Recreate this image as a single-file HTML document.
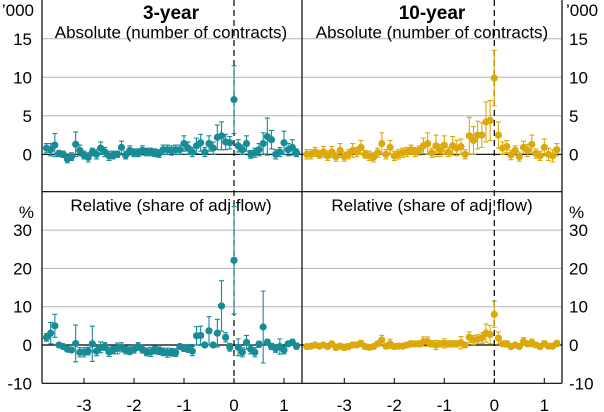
<!DOCTYPE html>
<html><head><meta charset="utf-8"><style>
body{margin:0;background:#fff}
svg{display:block;font-family:"Liberation Sans",Arial,sans-serif}
</style></head><body>
<svg id="c" width="604" height="412" viewBox="0 0 604 412" xmlns="http://www.w3.org/2000/svg"></svg>
<script>
// x positions: months relative to event, in years
const monthIndex = [];
for (let i = -45; i <= 15; i++) monthIndex.push(i);
const absolute3y = [0.8,0.6,1.2,0.1,0,-0.6,-0.3,1.3,0.5,-0.1,-0.4,0.3,0,0.8,0.3,-0.2,-0.1,0,0.9,-0.1,0.5,0.2,0.2,0.5,0.3,0.3,0.2,0.1,0.6,0.6,0.5,0.6,0.6,1.4,0.8,0.3,1.1,1.5,0.3,1.4,0.8,2.2,2.4,1.6,1.5,7.1,1.1,0.6,1.4,0,0.2,0.6,1.4,2.3,1.9,0,0.3,1.5,0.6,0.9,0.2];
const absolute3yErr = [0.6,0.8,1.5,0.4,0.4,0.5,0.5,1.6,0.7,0.5,0.6,0.5,0.6,0.8,0.6,0.6,0.5,0.4,0.8,0.5,0.6,0.5,0.5,0.6,0.5,0.5,0.5,0.5,0.6,0.6,0.6,0.6,0.6,1.0,0.8,0.6,1.0,1.1,0.6,1.0,0.8,1.6,1.8,1.0,0.8,4.4,0.8,0.6,1.0,0.5,0.6,0.8,1.4,2.4,1.2,0.6,0.6,1.5,0.8,1.0,0.5];
const relative3y = [2.0,3.1,5.0,0,-0.4,-1.1,-1.3,0.4,-1.9,-1.9,-1.6,0.3,-1.6,-0.6,-0.4,-1.8,-1.3,-0.9,-0.6,-1.3,-1.5,-1.1,-0.4,-1.1,-1.8,-1.8,-1.3,-1.5,-1.8,-2.0,-1.9,-2.0,-0.4,-0.9,-0.9,-1.6,2.4,2.5,0,3.7,0,3.1,10.2,2.0,-0.6,22.1,-0.6,-1.9,0.7,-1.1,-1.9,0.2,4.7,0.7,-0.4,-0.9,-0.4,-1.3,0.3,0.7,-0.3];
const relative3yErr = [1.0,2.8,3.0,0.4,0.5,0.6,0.6,4.8,1.2,1.2,1.0,4.6,1.2,1.4,1.0,1.2,1.0,1.4,1.2,1.0,1.0,1.0,1.0,1.0,1.0,1.2,1.0,1.0,1.0,1.2,1.0,1.0,0.6,0.8,1.0,1.2,2.4,2.4,0.6,3.7,0.6,3.6,6.6,1.2,1.0,14,2.2,1.2,1.8,1.2,1.2,0.8,9.4,0.8,0.8,1.0,2.0,1.0,0.6,0.8,0.8];
const absolute10y = [0,0,0.3,0,0.3,-0.2,0.3,-0.3,0.5,-0.3,0,0.5,0.3,0.9,0,-0.2,-0.4,0.2,1.4,0,0.9,-0.2,0,0.2,0.3,0.6,0.3,0.5,1.1,1.4,0.2,1.1,0.5,1.2,0.3,1.1,0.8,1.0,0,2.4,1.8,2.5,2.5,4.2,4.4,9.9,2.5,0.8,1.0,-0.1,0.5,-0.3,0.9,0.5,1.3,0.1,-0.2,0.9,0,-0.2,0.6];
const absolute10yErr = [0.6,0.6,0.6,0.5,0.7,0.6,0.7,0.6,0.9,0.6,0.6,0.9,0.6,0.9,0.5,0.6,0.6,0.6,1.4,0.6,0.9,0.6,0.6,0.6,0.6,0.6,0.6,0.6,1.0,1.4,0.6,1.4,0.8,1.2,0.6,1.2,1.0,1.0,0.6,2.4,1.8,1.8,1.6,2.6,2.6,3.6,1.7,0.8,0.8,0.6,0.6,0.6,0.8,0.8,1.2,0.6,0.6,1.1,0.8,0.8,0.8];
const relative10y = [-0.4,-0.3,0,-0.3,0,-0.4,0.3,-0.6,-0.3,-0.6,-0.4,0,0,0.4,-0.4,-0.6,-0.4,0.3,1.3,-0.3,0.3,-0.4,-0.3,-0.3,0,0.3,0.3,0.3,0.9,0.9,0.3,0,0.3,0.4,0.3,0.3,0.3,0.6,0,2.0,1.3,1.5,1.8,3.1,2.7,8.0,1.8,0.3,0.3,-0.4,0,-0.4,0.9,0.3,0.6,0,-0.4,0.3,-0.3,-0.3,0.4];
const relative10yErr = [0.4,0.4,0.4,0.4,0.4,0.4,0.6,0.8,0.5,0.8,0.6,0.6,0.6,0.8,0.6,0.6,0.5,0.6,1.2,0.6,1.2,0.6,0.6,0.6,0.6,0.8,0.6,0.8,1.2,1.2,0.8,1.2,0.8,1.2,0.8,0.8,0.8,1.6,0.6,1.4,1.2,1.2,1.4,2.4,2.4,3.4,1.6,0.6,0.8,0.6,0.6,0.6,1.0,0.6,1.0,0.5,0.6,0.8,0.6,0.6,0.8];
const xTickLabels = [-3,-2,-1,0,1];
const topTicks = [15,10,5,0];
const botTicks = [30,20,10,0,-10];

const NS='http://www.w3.org/2000/svg';
const svg=document.getElementById('c');
function el(tag,attrs,parent){const e=document.createElementNS(NS,tag);for(const k in attrs)e.setAttribute(k,attrs[k]);(parent||svg).appendChild(e);return e;}

const panelsX=[{x0:42,x1:302,zero:234},{x0:302,x1:562,zero:494.3}];
const PX=50;
const rows=[{y0:0,y1:191.7,zeroY:154.3,per:7.7,grid:[5,10,15]},{y0:191.7,y1:383.3,zeroY:345,per:3.83,grid:[10,20,30]}];
const xs=(p,v)=>panelsX[p].zero+v*PX;
const ys=(r,v)=>rows[r].zeroY-v*rows[r].per;

rows.forEach((r,ri)=>{panelsX.forEach((p,pi)=>{r.grid.forEach(g=>{
  const l=el('line',{x1:p.x0,x2:p.x1,y1:ys(ri,g),y2:ys(ri,g),stroke:'#b4b4b4','stroke-width':1});
  
  
});});});

const series=[
 {p:0,r:0,v:absolute3y,e:absolute3yErr,c:'#178c96',n:'abs-3y'},
 {p:0,r:1,v:relative3y,e:relative3yErr,c:'#178c96',n:'rel-3y'},
 {p:1,r:0,v:absolute10y,e:absolute10yErr,c:'#dca90c',n:'abs-10y'},
 {p:1,r:1,v:relative10y,e:relative10yErr,c:'#dca90c',n:'rel-10y'}];

rows.forEach((r,ri)=>{panelsX.forEach((p,pi)=>{
  const z=el('line',{x1:p.x0,x2:p.x1,y1:r.zeroY,y2:r.zeroY,stroke:'#000','stroke-width':1.2});
  
  
});});
panelsX.forEach(p=>{
  const d=el('line',{x1:p.zero,x2:p.zero,y1:0,y2:383.3,stroke:'#000','stroke-width':1.2,'stroke-dasharray':'6,4'});
  
  
});

series.forEach(s=>{
  const g=el('g',{});
  
  
  s.v.forEach((v,i)=>{
    const x=xs(s.p,monthIndex[i]/12);
    const yt=ys(s.r,v+s.e[i]), yb=ys(s.r,v-s.e[i]);
    const eb=el('path',{d:`M${x},${yt}V${yb}M${x-2.5},${yt}H${x+2.5}M${x-2.5},${yb}H${x+2.5}`,stroke:s.c,'stroke-width':1.1,fill:'none'},g);
    
    
    const pt=el('circle',{cx:x,cy:ys(s.r,v),r:3.6,fill:s.c},g);
    
    
  });
});

[[42,0,42,383.3],[302,0,302,383.3],[562,0,562,383.3],[42,191.7,562,191.7],[42,383.3,562,383.3]].forEach(a=>{
  const l=el('line',{x1:a[0],y1:a[1],x2:a[2],y2:a[3],stroke:'#000','stroke-width':1.2});
  
  
});
panelsX.forEach((p,pi)=>{xTickLabels.forEach(t=>{
  const x=xs(pi,t);
  const tk=el('line',{x1:x,x2:x,y1:383.3,y2:378,stroke:'#000','stroke-width':1});
  
  
  const tx=el('text',{x:x,y:411,'text-anchor':'middle','font-size':17});
  tx.textContent=t;
  
  
});});
function ylab(vals,ri){vals.forEach(v=>{
  [[32,'end'],[569,'start']].forEach(([x,a])=>{
    const t=el('text',{x:x,y:ys(ri,v)+6,'text-anchor':a,'font-size':17});
    t.textContent=v;
    
    
  });
});}
ylab(topTicks,0);ylab(botTicks,1);
function txt(s,x,y,a,sz,w,name){const t=el('text',{x:x,y:y,'text-anchor':a,'font-size':sz,'font-weight':w||'normal'});t.textContent=s;

}
txt("’000",34,16,'end',17,'','y-unit-left-top');
txt("’000",566,16,'start',17,'','y-unit-right-top');
txt("%",34,218,'end',17,'','y-unit-left-bottom');
txt("%",569,218,'start',17,'','y-unit-right-bottom');
txt("3-year",171,19,'middle',19,'bold','panel-title-3y');
txt("10-year",432,19,'middle',19,'bold','panel-title-10y');
txt("Absolute (number of contracts)",171,38,'middle',17,'','subtitle-absolute-3y');
txt("Absolute (number of contracts)",432,38,'middle',17,'','subtitle-absolute-10y');
txt("Relative (share of adj flow)",171,211,'middle',17,'','subtitle-relative-3y');
txt("Relative (share of adj flow)",432,211,'middle',17,'','subtitle-relative-10y');
</script>
</body></html>
